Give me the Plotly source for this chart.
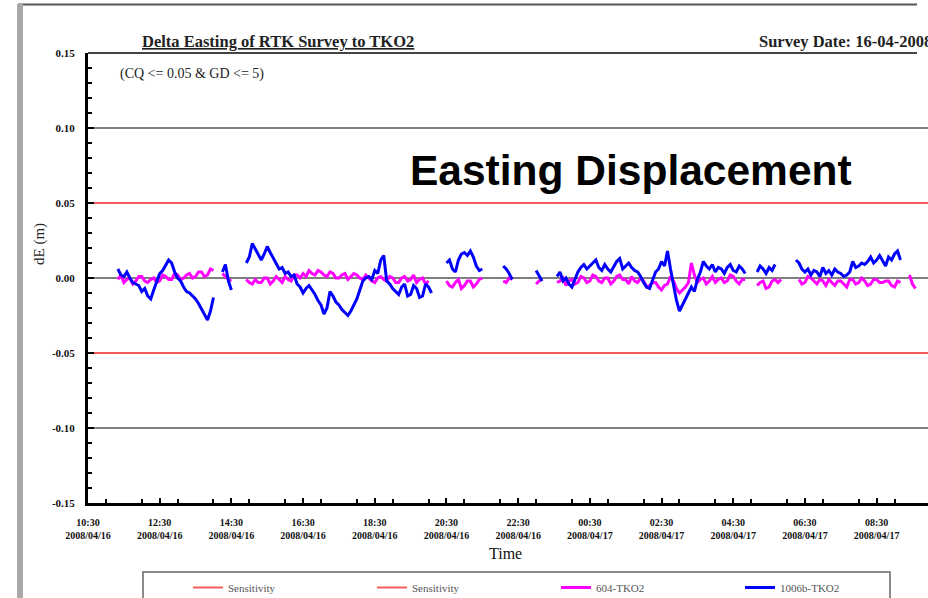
import pandas as pd
import plotly.graph_objects as go

# ---------------- data ----------------
START_TIME = "2008-04-16 11:20"          # first sample
STEP = "5min"
N = None
# dE in mm, 604-TKO2 (magenta)
DE_604 = [
    -1, 2, -3, -1, 0, -4, -2, 1, 1, -2,
    -3, -1, 0, -3, -2, 2, 1, -1, -1, 3,
    2, -1, 0, 2, 3, 0, 1, 4, 4, 1,
    2, 6, 5, N, N, 3, 1, -1, -2, N,
    N, N, N, -1, -3, -4, -1, -3, -3, 0,
    0, -4, -2, 1, -1, -3, 1, -1, -2, 2,
    2, 0, 3, 1, 5, 3, 2, 5, 4, 2,
    1, 4, 3, 0, 0, 2, 3, -1, 1, 3,
    2, 0, -1, 2, 0, -2, -3, 0, 1, -1,
    -2, 1, 0, -3, -3, 0, 1, -2, -1, 2,
    -3, -1, 0, -4, -2, N, N, N, N, N,
    -2, -5, -6, -3, -1, -7, -5, -2, -2, -6,
    -4, -1, 0, N, N, N, N, N, N, -2,
    -3, 0, -1, N, N, N, N, N, N, N,
    -4, -2, -1, N, N, N, N, -3, -2, 0,
    -5, -2, -1, -4, -3, 1, 0, -3, -2, 2,
    1, -2, -3, 0, 0, -4, -2, 1, 2, -1,
    -1, -4, 1, -2, -3, 0, -2, -6, -5, -3,
    -3, -6, -8, -5, -4, 1, -2, -7, -10, -8,
    -6, -3, 10, 2, -3, -1, 0, -4, -2, 1,
    -3, -1, 0, -3, -2, 2, 1, -2, -4, -1,
    -1, N, N, N, -5, -3, -2, -7, -6, -2,
    -1, -3, -1, N, N, N, N, N, -1, -4,
    -3, 1, 0, -2, -4, -1, -2, -5, -1, -3,
    -5, -2, -2, -4, -6, -1, -1, -4, -3, 0,
    -2, -5, -4, -1, -1, -3, -3, -2, -2, -5,
    -6, -2, -3, N, N, 2, -4, -7, N, N,
    N,
]
# dE in mm, second station (blue)
DE_1006 = [
    6, 2, 1, 4, 0, -3, -4, -5, -9, -7,
    -12, -14, -8, -3, 3, 5, 9, 12, 10, 4,
    0, -2, -6, -9, -10, -12, -14, -17, -21, -24,
    -28, -22, -13, N, N, 4, 9, -2, -8, N,
    N, N, N, 10, 14, 23, 19, 15, 12, 16,
    21, 17, 13, 9, 6, 7, 3, 4, 1, 2,
    -4, -6, -10, -7, -5, -8, -11, -15, -18, -24,
    -20, -9, -12, -16, -18, -21, -23, -25, -22, -18,
    -14, -8, -2, 0, 1, -1, 5, 3, 12, 15,
    -2, -4, -7, -9, -11, -6, -4, -12, -11, -5,
    -7, -13, -12, -4, -6, -10, N, N, N, N,
    10, 12, 6, 4, 12, 16, 17, 15, 18, 14,
    8, 5, 6, N, N, N, N, N, N, 8,
    6, 3, -1, N, N, N, N, N, N, N,
    5, 1, -2, N, N, N, N, 1, 4, -2,
    0, -4, -6, -1, 4, 7, 9, 6, 8, 10,
    12, 7, 5, 9, 6, 4, 8, 11, 13, 6,
    8, 10, 7, 5, 4, 1, -3, -6, -7, -2,
    4, 6, 11, 8, 18, 6, -6, -15, -22, -18,
    -14, -10, -6, -9, -1, 4, 11, 8, 6, 9,
    4, 7, 6, 3, 7, 9, 5, 4, 8, 6,
    3, N, N, N, 4, 8, 6, 3, 7, 5,
    9, N, N, N, N, N, N, 12, 10, 6,
    4, 6, 2, 5, 4, 1, 7, 3, 5, 2,
    6, 4, 3, 1, 2, 4, 11, 7, 8, 10,
    9, 11, 14, 10, 12, 15, 11, 8, 14, 12,
    16, 18, 12, N, N, N, N, N, N, N,
    N,
]
SENSITIVITY = 0.05
GRID_LEVELS = [0.10, 0.00, -0.10]
Y_TICK_VALS = [0.15, 0.10, 0.05, 0.00, -0.05, -0.10, -0.15]
Y_TICK_TEXT = ["0.15", "0.10", "0.05", "0.00", "-0.05", "-0.10", "-0.15"]
X_START = "2008-04-16 10:30"
X_END = "2008-04-17 09:56"
SERIES_NAMES = ["Sensitivity", "Sensitivity", "604-TKO2", "1006b-TKO2"]

times = pd.date_range(START_TIME, periods=len(DE_604), freq=STEP)
to_m = lambda arr: [None if v is None else v / 1000.0 for v in arr]

W, H = 928, 598
L, R, T, B = 88, 0, 53, 95
def px(x):
    return (x - L) / (W - L - R)
def py(y):
    return (H - B - y) / (H - T - B)

SERIF = "Liberation Serif, Times New Roman, serif"

fig = go.Figure()
fig.add_trace(go.Scatter(x=[X_START, X_END], y=[SENSITIVITY, SENSITIVITY], mode="lines",
                         line=dict(color="#F25C5C", width=2), name=SERIES_NAMES[0]))
fig.add_trace(go.Scatter(x=[X_START, X_END], y=[-SENSITIVITY, -SENSITIVITY], mode="lines",
                         line=dict(color="#F25C5C", width=2), name=SERIES_NAMES[1]))
fig.add_trace(go.Scatter(x=times, y=to_m(DE_604), mode="lines",
                         line=dict(color="#FF00FF", width=3),
                         name=SERIES_NAMES[2], connectgaps=False))
fig.add_trace(go.Scatter(x=times, y=to_m(DE_1006), mode="lines",
                         line=dict(color="#0000FF", width=3),
                         name=SERIES_NAMES[3], connectgaps=False))

shapes = []
for g in GRID_LEVELS:
    shapes.append(dict(type="line", xref="paper", x0=0, x1=1, yref="y", y0=g, y1=g,
                       line=dict(color="#555555", width=1.5), layer="below"))
shapes.append(dict(type="line", xref="paper", x0=0, x1=px(917), yref="paper", y0=1, y1=1,
                   line=dict(color="#444444", width=2)))
# frame decorations
shapes.append(dict(type="line", xref="paper", yref="paper", x0=px(18), x1=px(917),
                   y0=py(4.5), y1=py(4.5), line=dict(color="#555555", width=2)))
shapes.append(dict(type="rect", xref="paper", yref="paper", x0=px(17), x1=px(23),
                   y0=py(598), y1=py(4), fillcolor="#A8A8A8", line=dict(width=0)))
shapes.append(dict(type="rect", xref="paper", yref="paper", x0=px(143), x1=px(890),
                   y0=py(610), y1=py(572), line=dict(color="#666666", width=1.5)))

annotations = [
    dict(text="<b><u>Delta Easting of RTK Survey to TKO2</u></b>", x=px(278), y=py(42),
         xref="paper", yref="paper", xanchor="center", yanchor="middle", showarrow=False,
         font=dict(family=SERIF, size=16.5, color="#222")),
    dict(text="<b>Survey Date: 16-04-2008</b>", x=px(757), y=py(42),
         xref="paper", yref="paper", xanchor="left", yanchor="middle", showarrow=False,
         font=dict(family=SERIF, size=16.5, color="#222")),
    dict(text="(CQ &lt;= 0.05 &amp; GD &lt;= 5)", x=px(118), y=py(74),
         xref="paper", yref="paper", xanchor="left", yanchor="middle", showarrow=False,
         font=dict(family=SERIF, size=14, color="#222")),
    dict(text="<b>Easting Displacement</b>", x=px(408), y=py(170),
         xref="paper", yref="paper", xanchor="left", yanchor="middle", showarrow=False,
         font=dict(family="Liberation Sans, Arial, sans-serif", size=42.5, color="#000")),
    dict(text="dE (m)", x=px(40), y=py(244), textangle=-90,
         xref="paper", yref="paper", xanchor="center", yanchor="middle", showarrow=False,
         font=dict(family=SERIF, size=15, color="#222")),
    dict(text="Time", x=px(505), y=py(553),
         xref="paper", yref="paper", xanchor="center", yanchor="middle", showarrow=False,
         font=dict(family=SERIF, size=16, color="#111")),
]

fig.update_layout(
    width=W, height=H,
    margin=dict(l=L, r=R, t=T, b=B, autoexpand=False),
    paper_bgcolor="white", plot_bgcolor="white",
    showlegend=True,
    legend=dict(orientation="h", x=px(188), y=py(573), xanchor="left", yanchor="top",
                entrywidth=139, entrywidthmode="pixels", bgcolor="rgba(0,0,0,0)",
                font=dict(family=SERIF, size=11, color="#555"), borderwidth=0,
                traceorder="normal", itemwidth=30),
    shapes=shapes, annotations=annotations,
    xaxis=dict(type="date", range=[X_START, X_END], showgrid=False, zeroline=False,
               showline=True, linecolor="black", linewidth=3,
               tick0="2008-04-16 10:30", dtick=7200000, tickformat="%H:%M<br>%Y/%m/%d",
               ticks="inside", ticklen=5, tickwidth=2, tickcolor="black",
               ticklabelstandoff=8,
               minor=dict(dtick=3600000, ticks="inside", ticklen=4, tickwidth=2, tickcolor="black"),
               tickfont=dict(family=SERIF, size=10, color="#111", weight="bold")),
    yaxis=dict(range=[-0.15, 0.15], showgrid=False, zeroline=False,
               showline=True, linecolor="black", linewidth=3,
               tickmode="array", tickvals=Y_TICK_VALS, ticktext=Y_TICK_TEXT,
               ticks="inside", ticklen=6, tickwidth=2, tickcolor="black",
               ticklabelstandoff=8,
               minor=dict(tick0=0, dtick=0.01, ticks="inside", ticklen=4, tickwidth=2, tickcolor="black"),
               tickfont=dict(family=SERIF, size=11, color="#111", weight="bold")),
)

fig.write_html("out.html", config={"displayModeBar": False},
               post_script="document.body.style.margin='0';")
